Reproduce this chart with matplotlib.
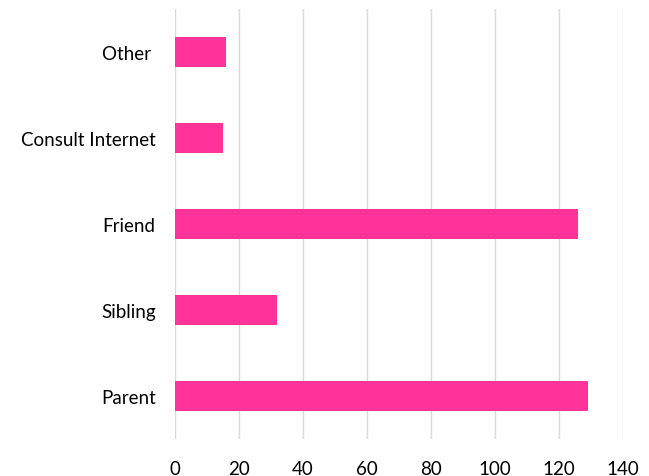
import matplotlib.pyplot as plt

# categories bottom to top
categories = ["Parent", "Sibling", "Friend", "Consult Internet", "Other "]
counts = [129, 32, 126, 15, 16]
xticks = [0, 20, 40, 60, 80, 100, 120, 140]

plt.rcParams["font.family"] = ["Lato", "DejaVu Sans"]

fig = plt.figure(figsize=(6.49, 4.77), dpi=100)
ax = fig.add_axes([175 / 649, 1 - 440 / 477, 448 / 649, 430 / 477])

ax.barh(categories, counts, height=0.36, color="#FF3399", zorder=3)

ax.set_xlim(0, 140)
ax.set_ylim(-0.5, len(categories) - 0.5)
ax.set_xticks(xticks)
ax.grid(axis="x", color="#d9d9d9", linewidth=1, zorder=0)
for s in ax.spines.values():
    s.set_visible(False)
ax.tick_params(axis="both", length=0, labelsize=13.5, colors="black")
ax.tick_params(axis="y", pad=14)
ax.tick_params(axis="x", pad=15)

fig.savefig("out.png", dpi=100)
